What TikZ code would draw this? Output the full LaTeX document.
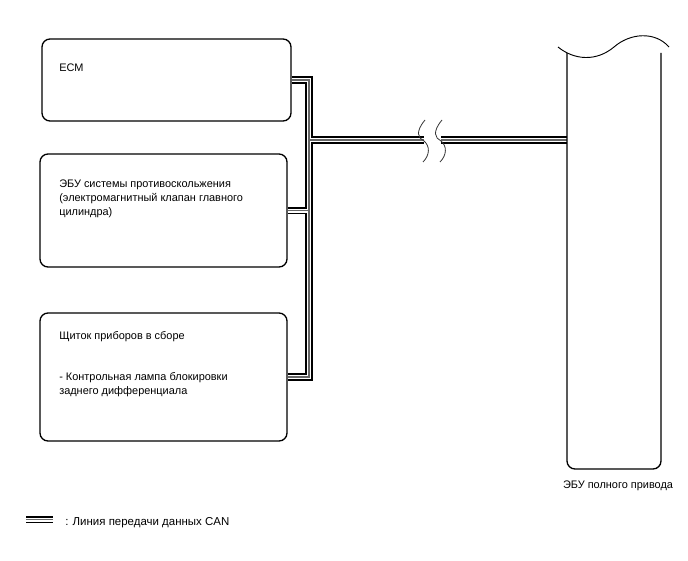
\documentclass[tikz,border=0pt]{standalone}
\usepackage{fontspec}
\setmainfont{Liberation Sans}
\begin{document}
\begin{tikzpicture}[x=0.75pt,y=-0.75pt,
  box/.style={draw,line width=1pt,rounded corners=6pt,minimum width=#1*0.75pt,inner sep=0pt},
  lbl/.style={anchor=base west,inner sep=0pt,font=\fontsize{8.2}{9}\selectfont},
  busA/.style={line width=5.8pt,black},
  busB/.style={line width=3.0pt,white},
  busC/.style={line width=1.3pt,black!60},
  brk/.style={line width=0.6pt,black!80}]
\useasboundingbox (0,0) rectangle (688,560);
% boxes
\node[box=249,minimum height=61.5pt] (ecm) at (166.5,80) {};
\node[box=247,minimum height=84.75pt] (abs) at (163.5,210.5) {};
\node[box=247,minimum height=96pt] (meter) at (163.5,377) {};
% texts
\node[lbl] (t1) at (59,72) {ECM};
\node[lbl] (t2a) at (59,187) {ЭБУ системы противоскольжения};
\node[lbl] (t2b) at (59,201) {(электромагнитный клапан главного};
\node[lbl] (t2c) at (59,215) {цилиндра)};
\node[lbl] (t3a) at (59,339) {Щиток приборов в сборе};
\node[lbl] (t3b) at (59,380) {- Контрольная лампа блокировки};
\node[lbl] (t3c) at (59,394) {заднего дифференциала};
\node[lbl,anchor=base] (t4) at (618,488) {ЭБУ полного привода};
\node[lbl,font=\fontsize{8.6}{9}\selectfont] (t5) at (65,525) {: Линия передачи данных CAN};
% coordinates
\coordinate (jtop) at (309,80);
\coordinate (jbot) at (309,377);
\coordinate (jabs) at (309,210.5);
\coordinate (jecu) at (309,140);
\coordinate (b1) at (424,140);
\coordinate (b2) at (441,140);
\coordinate (ecu) at (567,140);
\coordinate (l1) at (26,519.5);
\coordinate (l2) at (53,519.5);
% bus
\foreach \s in {busA,busB,busC}{
  \draw[\s] (ecm.east) -- (jtop) -- (jbot) -- (meter.east);
  \draw[\s] (abs.east) -- (jabs);
  \draw[\s] (jecu) -- (b1);
  \draw[\s] (b2) -- (ecu);
  \draw[\s] (l1) -- (l2);
}
% break marks
\draw[brk] (425,120) .. controls (415,132) and (418,138) .. (424,141) .. controls (430,146) and (430,155) .. (423,162);
\draw[brk] (442,120) .. controls (432,132) and (435,138) .. (441,141) .. controls (447,146) and (447,155) .. (440,162);
% 4WD ECU
\draw[line width=1pt,rounded corners=6pt] (567,53) -- (567,469) -- (661,469) -- (661,53);
\draw[line width=0.7pt] (558,47) .. controls (574,60) and (596,62) .. (614,47) .. controls (630,33) and (655,31) .. (669,47);
\end{tikzpicture}
\end{document}
